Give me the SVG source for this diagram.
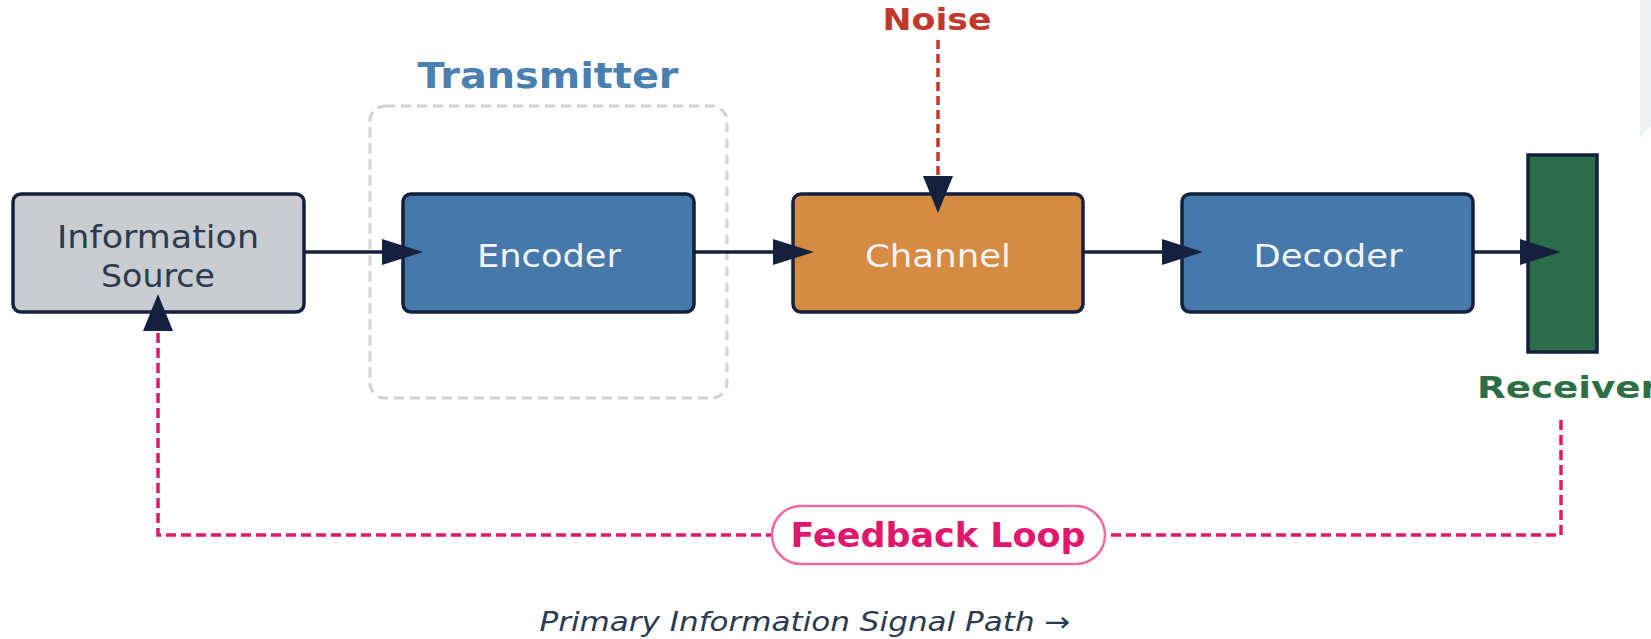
<svg xmlns="http://www.w3.org/2000/svg" width="1651" height="639" viewBox="0 0 1651 639">
  <style>
    .box { stroke: #14213d; stroke-width: 3.5; }
    .lbl { font-family: "DejaVu Sans", "Liberation Sans", sans-serif; font-size: 32px; text-anchor: middle; }
    .lbl-dark { fill: #2c3a50; }
    .lbl-light { fill: #f2f4f7; }
    .title { font-family: "DejaVu Sans", "Liberation Sans", sans-serif; font-weight: bold; text-anchor: middle; }
    .signal { fill: none; stroke: #14213d; stroke-width: 3.5; }
    .noise { fill: none; stroke: #c0392b; stroke-width: 3.5; stroke-dasharray: 9 5; }
    .feedback { fill: none; stroke: #e0186c; stroke-width: 3.5; stroke-dasharray: 10 5; }
  </style>
  <defs>
    <marker id="arrow-h" markerUnits="userSpaceOnUse" markerWidth="42" markerHeight="26" refX="0" refY="13" orient="auto">
      <path d="M0,0 L41,13 L0,26 Z" fill="#14213d"/>
    </marker>
    <marker id="arrow-v" markerUnits="userSpaceOnUse" markerWidth="38" markerHeight="30" refX="0" refY="15" orient="auto">
      <path d="M0,0 L37,15 L0,30 Z" fill="#14213d"/>
    </marker>
  </defs>

  <rect width="1651" height="639" fill="#ffffff"/>
  <!-- pale panel edge at the top right -->
  <polygon points="1640,0 1651,0 1651,126 1640,138" fill="#eef1f4"/>

  <!-- transmitter grouping -->
  <g id="transmitter">
    <rect x="370" y="106" width="357" height="292" rx="15" fill="none" stroke="#cfd2d6" stroke-width="3" stroke-dasharray="10 6"/>
    <text class="title" x="548" y="88" font-size="35" fill="#4a7fb1" textLength="261" lengthAdjust="spacingAndGlyphs">Transmitter</text>
  </g>

  <g id="information-source">
    <rect class="box" x="13" y="194" width="291" height="118" rx="8" fill="#c9ccd0"/>
    <text class="lbl lbl-dark" x="158" y="248" textLength="202" lengthAdjust="spacingAndGlyphs">Information</text>
    <text class="lbl lbl-dark" x="158" y="287" textLength="114" lengthAdjust="spacingAndGlyphs">Source</text>
  </g>

  <g id="encoder">
    <rect class="box" x="403" y="194" width="291" height="118" rx="8" fill="#4678a9"/>
    <text class="lbl lbl-light" x="549" y="267" textLength="144" lengthAdjust="spacingAndGlyphs">Encoder</text>
  </g>

  <g id="channel">
    <rect class="box" x="793" y="194" width="290" height="118" rx="8" fill="#d68b43"/>
    <text class="lbl lbl-light" x="938" y="267" textLength="146" lengthAdjust="spacingAndGlyphs">Channel</text>
  </g>

  <g id="decoder">
    <rect class="box" x="1182" y="194" width="291" height="118" rx="8" fill="#4678a9"/>
    <text class="lbl lbl-light" x="1328" y="267" textLength="149" lengthAdjust="spacingAndGlyphs">Decoder</text>
  </g>

  <g id="receiver">
    <rect class="box" x="1528" y="155" width="69" height="197" fill="#2c6e4a"/>
    <text class="title" x="1568" y="398" font-size="30" fill="#2e6e47" textLength="182" lengthAdjust="spacingAndGlyphs">Receiver</text>
  </g>

  <g id="noise">
    <text class="title" x="937" y="30" font-size="31" fill="#c0392b" textLength="109" lengthAdjust="spacingAndGlyphs">Noise</text>
  </g>

  <g id="connectors">
    <line class="signal" x1="304" y1="252" x2="382" y2="252" marker-end="url(#arrow-h)"/>
    <line class="signal" x1="694" y1="252" x2="773" y2="252" marker-end="url(#arrow-h)"/>
    <line class="signal" x1="1083" y1="252" x2="1162" y2="252" marker-end="url(#arrow-h)"/>
    <line class="signal" x1="1473" y1="252" x2="1520" y2="252" marker-end="url(#arrow-h)"/>
    <line class="noise" x1="938" y1="40" x2="938" y2="176" marker-end="url(#arrow-v)"/>
    <path class="feedback" d="M1561,420 V535 H158 V331" marker-end="url(#arrow-v)"/>
  </g>

  <g id="feedback-label">
    <rect x="772" y="506" width="333" height="58" rx="29" fill="#ffffff" stroke="#ee6aa4" stroke-width="2.5"/>
    <text class="title" x="938" y="547" font-size="33" fill="#e0176d" textLength="295" lengthAdjust="spacingAndGlyphs">Feedback Loop</text>
  </g>

  <g id="caption">
    <text x="805" y="631" font-family="DejaVu Sans, Liberation Sans, sans-serif" font-style="italic" font-size="27" fill="#2c3a50" text-anchor="middle" textLength="531" lengthAdjust="spacingAndGlyphs">Primary Information Signal Path →</text>
  </g>
</svg>
